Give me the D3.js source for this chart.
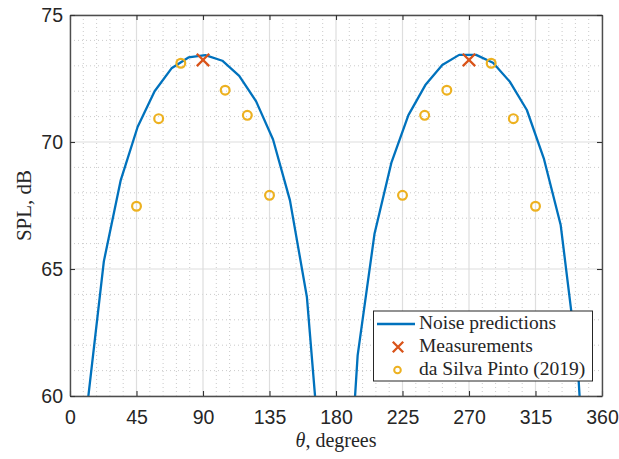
<!DOCTYPE html>
<html>
<head>
<meta charset="utf-8">
<script src="https://cdn.jsdelivr.net/npm/d3@7/dist/d3.min.js"></script>
<style>
  html, body { margin: 0; padding: 0; background: #fff; }
  svg { display: block; }
</style>
</head>
<body>
<svg id="chart" width="619" height="459"></svg>
<script>
// ---- data ----
const predTheta = [0, 11.45, 22.9, 34.35, 45.8, 57.25, 68.7, 80.15, 91.6, 103.05, 114.5, 125.95,
  137.4, 148.85, 160.3, 171.75, 183.2, 194.65, 206.1, 217.55, 229, 240.45, 251.9, 263.35,
  274.8, 286.25, 297.7, 309.15, 320.6, 332.05, 343.5, 354.95];
const predSPL = [45, 59.5, 65.3, 68.5, 70.6, 72.0, 72.9, 73.33, 73.42, 73.2, 72.6, 71.6,
  70.1, 67.7, 63.9, 55.8, 51.1, 61.6, 66.4, 69.2, 71.06, 72.24, 73.03, 73.43,
  73.43, 73.12, 72.37, 71.26, 69.36, 66.73, 61.3, 50];
const measTheta = [90, 270];
const measSPL = [73.23, 73.23];
const pintoTheta = [45, 60, 75, 105, 120, 135, 225, 240, 255, 285, 300, 315];
const pintoSPL = [67.47, 70.92, 73.1, 72.04, 71.05, 67.9, 67.9, 71.05, 72.04, 73.1, 70.92, 67.47];
const xTicks = [0, 45, 90, 135, 180, 225, 270, 315, 360];
const yTicks = [60, 65, 70, 75];
const legendLabels = ["Noise predictions", "Measurements", "da Silva Pinto (2019)"];

// ---- layout ----
const svg = d3.select("#chart");
const L = 70, R = 602, T = 15, B = 396;
const x = d3.scaleLinear().domain([0, 360]).range([L, R]);
const y = d3.scaleLinear().domain([60, 75]).range([B, T]);
const cBlue = "#0072BD", cRed = "#D95319", cYel = "#EDB120";
const tickFont = "'Liberation Sans', Arial, Helvetica, sans-serif";
const serif = "'Liberation Serif', 'Times New Roman', serif";

svg.append("rect").attr("width", 619).attr("height", 459).attr("fill", "#fff");

// minor grid
const xMinor = d3.range(0, 361, 9).filter(v => v % 45 !== 0);
const yMinor = d3.range(60, 75.01, 1).filter(v => v % 5 !== 0);
const grid = svg.append("g");
grid.selectAll(".xm").data(xMinor).join("line")
  .attr("x1", d => x(d)).attr("x2", d => x(d)).attr("y1", T).attr("y2", B)
  .attr("stroke", "#bdbdbd").attr("stroke-width", 0.8).attr("stroke-dasharray", "1,3");
grid.selectAll(".ym").data(yMinor).join("line")
  .attr("y1", d => y(d)).attr("y2", d => y(d)).attr("x1", L).attr("x2", R)
  .attr("stroke", "#bdbdbd").attr("stroke-width", 0.8).attr("stroke-dasharray", "1,3");
// major grid
grid.selectAll(".xM").data(xTicks).join("line")
  .attr("x1", d => x(d)).attr("x2", d => x(d)).attr("y1", T).attr("y2", B)
  .attr("stroke", "#dedede").attr("stroke-width", 1.2);
grid.selectAll(".yM").data(yTicks).join("line")
  .attr("y1", d => y(d)).attr("y2", d => y(d)).attr("x1", L).attr("x2", R)
  .attr("stroke", "#dedede").attr("stroke-width", 1.2);

// clip
svg.append("clipPath").attr("id", "clip").append("rect")
  .attr("x", L).attr("y", T).attr("width", R - L).attr("height", B - T);

// prediction line
const pred = predTheta.map((t, i) => [t, predSPL[i]]);
svg.append("path").datum(pred)
  .attr("clip-path", "url(#clip)")
  .attr("fill", "none").attr("stroke", cBlue).attr("stroke-width", 2.3)
  .attr("stroke-linejoin", "round")
  .attr("d", d3.line().x(d => x(d[0])).y(d => y(d[1])));

// pinto circles
svg.append("g").selectAll("circle").data(pintoTheta.map((t, i) => [t, pintoSPL[i]])).join("circle")
  .attr("cx", d => x(d[0])).attr("cy", d => y(d[1])).attr("r", 4.4)
  .attr("fill", "none").attr("stroke", cYel).attr("stroke-width", 2.2);

// measurement X
const xMark = (s) => `M${-s},${-s}L${s},${s}M${-s},${s}L${s},${-s}`;
svg.append("g").selectAll("path").data(measTheta.map((t, i) => [t, measSPL[i]])).join("path")
  .attr("transform", d => `translate(${x(d[0])},${y(d[1])})`)
  .attr("d", xMark(6.2)).attr("stroke", cRed).attr("stroke-width", 2.3).attr("fill", "none");

// axes
const axColor = "#4d4d4d";
function styleAxis(g) {
  g.select(".domain").attr("stroke", axColor).attr("stroke-width", 1.4);
  g.selectAll(".tick line").attr("stroke", "#333").attr("stroke-width", 1.1);
  g.selectAll(".tick text").attr("fill", "#262626")
    .style("font-family", tickFont).style("font-size", "19.5px");
}
svg.append("g").attr("transform", `translate(0,${B})`)
  .call(d3.axisBottom(x).tickValues(xTicks).tickSizeInner(-5).tickSizeOuter(0).tickPadding(14.5).tickFormat(d3.format("d")))
  .call(styleAxis);
svg.append("g").attr("transform", `translate(0,${T})`)
  .call(d3.axisTop(x).tickValues(xTicks).tickSizeInner(-5).tickSizeOuter(0).tickFormat(""))
  .call(styleAxis);
svg.append("g").attr("transform", `translate(${L},0)`)
  .call(d3.axisLeft(y).tickValues(yTicks).tickSizeInner(-5).tickSizeOuter(0).tickPadding(7).tickFormat(d3.format("d")))
  .call(styleAxis);
svg.append("g").attr("transform", `translate(${R},0)`)
  .call(d3.axisRight(y).tickValues(yTicks).tickSizeInner(-5).tickSizeOuter(0).tickFormat(""))
  .call(styleAxis);

// axis labels
const xl = svg.append("text").attr("x", 336).attr("y", 447).attr("text-anchor", "middle")
  .style("font-family", serif).style("font-size", "20px").attr("fill", "#262626");
xl.append("tspan").attr("font-style", "italic").text("θ");
xl.append("tspan").text(", degrees");
svg.append("text").attr("transform", "translate(31,205.5) rotate(-90)").attr("text-anchor", "middle")
  .style("font-family", serif).style("font-size", "21px").attr("fill", "#262626").text("SPL, dB");

// legend
const lg = svg.append("g");
lg.append("rect").attr("x", 373.5).attr("y", 311).attr("width", 219).attr("height", 70)
  .attr("fill", "#fff").attr("stroke", "#262626").attr("stroke-width", 1);
const rowY = [324, 347, 370];
lg.append("line").attr("x1", 377).attr("x2", 415).attr("y1", rowY[0]).attr("y2", rowY[0])
  .attr("stroke", cBlue).attr("stroke-width", 2.3);
lg.append("path").attr("transform", `translate(398,${rowY[1]})`).attr("d", xMark(5.2))
  .attr("stroke", cRed).attr("stroke-width", 2.3).attr("fill", "none");
lg.append("circle").attr("cx", 397.5).attr("cy", rowY[2]).attr("r", 3.3)
  .attr("fill", "none").attr("stroke", cYel).attr("stroke-width", 2);
lg.selectAll(".lt").data(legendLabels).join("text")
  .attr("x", 419).attr("y", (d, i) => rowY[i] + 5)
  .style("font-family", serif).style("font-size", "19.5px").attr("fill", "#262626")
  .text(d => d);
</script>
</body>
</html>
